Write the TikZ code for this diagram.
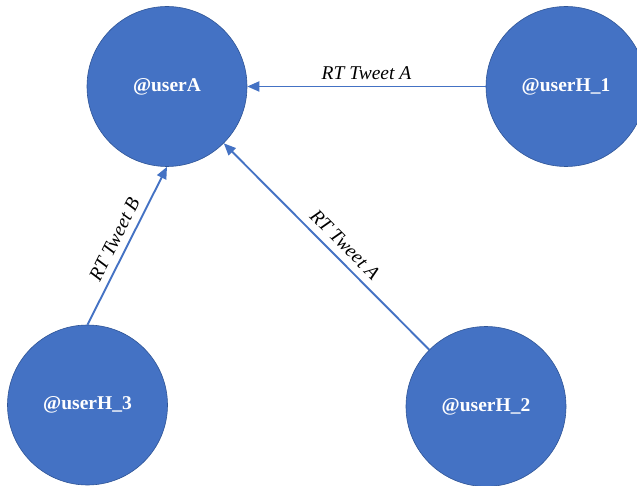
\documentclass[tikz,border=0pt]{standalone}
\usepackage{fontspec}
\setmainfont{Liberation Serif}
\usetikzlibrary{arrows.meta}
\definecolor{nodeblue}{HTML}{4472C4}
\definecolor{edgeblue}{HTML}{2F5597}
\tikzset{
  user/.style={circle, fill=nodeblue, draw=edgeblue, line width=0.6pt, minimum size=160pt, inner sep=0pt,
    text=white, font=\fontsize{19.5}{22}\selectfont\bfseries},
  rt/.style={draw=nodeblue, line width=1.9pt, -{Triangle[length=12pt,width=10pt]}},
  lbl/.style={font=\fontsize{19.5}{22}\selectfont\itshape, text=black, inner sep=3pt}
}
\begin{document}
\begin{tikzpicture}[x=1pt,y=1pt]
\clip (0,0) rectangle (637,485);
\fill[white] (0,0) rectangle (637,485);
\node[user] (A) at (167,398.5) {@userA};
\node[user] (H1) at (566,398.5) {@userH\_1};
\node[user] (H3) at (87.5,80) {@userH\_3};
\node[user] (H2) at (486,78.5) {@userH\_2};
\draw[rt] (H1.west) -- node[lbl, above=3pt] {RT Tweet A} (A.east);
\draw[rt] (H3.north) -- node[lbl, sloped, above=4pt] {RT Tweet B} (A.south);
\draw[rt] (H2.north west) -- node[lbl, sloped, above=4pt, pos=0.46] {RT Tweet A} (A.south east);
\end{tikzpicture}
\end{document}
